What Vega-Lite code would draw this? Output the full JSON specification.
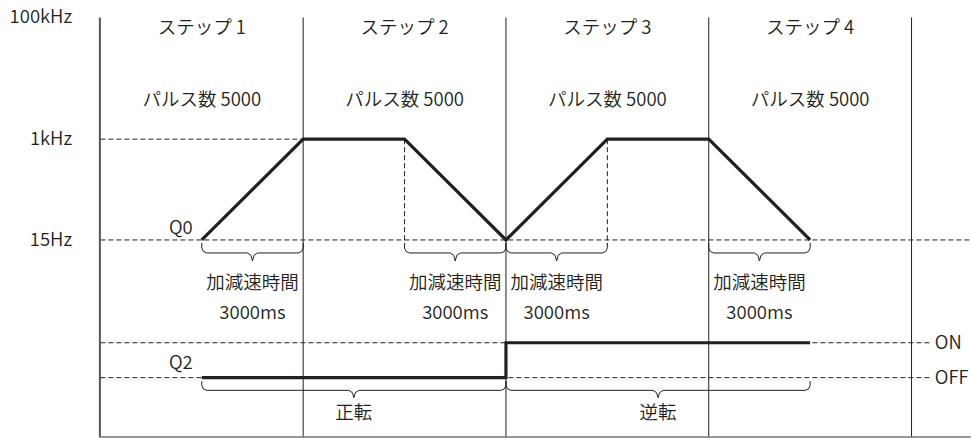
{
  "$schema": "https://vega.github.io/schema/vega-lite/v6.json",
  "width": 972,
  "height": 439,
  "autosize": {"type": "fit", "contains": "padding"},
  "padding": 0,
  "background": "white",
  "view": {"stroke": null},
  "config": {"text": {"font": "Noto Sans CJK JP", "fontSize": 18.5, "fontWeight": 350, "color": "#231f20"}},
  "datasets": {
    "dashed": [
      {"x1": -1, "x2": 1, "y1": 1, "y2": 1},
      {"x1": -1, "x2": 7.586, "y1": 0, "y2": 0},
      {"x1": -1, "x2": 7.2, "y1": -1.02, "y2": -1.02},
      {"x1": -1, "x2": 7.2, "y1": -1.366, "y2": -1.366},
      {"x1": 2, "x2": 2, "y1": 1, "y2": -0.05},
      {"x1": 4, "x2": 4, "y1": 1, "y2": -0.05}
    ],
    "steps": [
      {"t": 1, "top": 2.208, "bottom": -1.96},
      {"t": 3, "top": 2.208, "bottom": -1.96},
      {"t": 5, "top": 2.208, "bottom": -1.96},
      {"t": 7, "top": 2.208, "bottom": -1.96}
    ],
    "leftAxis": [{"t": -1.005, "top": 2.208, "bottom": -1.96}],
    "bottomAxis": [{"t1": -1, "t2": 7.586, "v": -1.955}],
    "q0": [
      {"o": 0, "t": 0, "v": 0},
      {"o": 1, "t": 1, "v": 1},
      {"o": 2, "t": 2, "v": 1},
      {"o": 3, "t": 3, "v": 0},
      {"o": 4, "t": 4, "v": 1},
      {"o": 5, "t": 5, "v": 1},
      {"o": 6, "t": 6, "v": 0}
    ],
    "q2": [
      {"o": 0, "t": 0, "v": -1.366},
      {"o": 1, "t": 3, "v": -1.366},
      {"o": 2, "t": 3, "v": -1.02},
      {"o": 3, "t": 6, "v": -1.02}
    ],
    "braces": [
      {"b": "a", "o": 1, "t": 0, "v": -0.03},
      {"b": "a", "o": 2, "t": 0, "v": -0.079},
      {"b": "a", "o": 3, "t": 0.015, "v": -0.114},
      {"b": "a", "o": 4, "t": 0.05, "v": -0.129},
      {"b": "a", "o": 5, "t": 0.45, "v": -0.129},
      {"b": "a", "o": 6, "t": 0.485, "v": -0.152},
      {"b": "a", "o": 7, "t": 0.5, "v": -0.209},
      {"b": "a", "o": 8, "t": 0.515, "v": -0.152},
      {"b": "a", "o": 9, "t": 0.55, "v": -0.129},
      {"b": "a", "o": 10, "t": 0.95, "v": -0.129},
      {"b": "a", "o": 11, "t": 0.985, "v": -0.114},
      {"b": "a", "o": 12, "t": 1, "v": -0.079},
      {"b": "a", "o": 13, "t": 1, "v": -0.03},
      {"b": "b", "o": 1, "t": 2, "v": -0.03},
      {"b": "b", "o": 2, "t": 2, "v": -0.079},
      {"b": "b", "o": 3, "t": 2.015, "v": -0.114},
      {"b": "b", "o": 4, "t": 2.05, "v": -0.129},
      {"b": "b", "o": 5, "t": 2.45, "v": -0.129},
      {"b": "b", "o": 6, "t": 2.485, "v": -0.152},
      {"b": "b", "o": 7, "t": 2.5, "v": -0.209},
      {"b": "b", "o": 8, "t": 2.515, "v": -0.152},
      {"b": "b", "o": 9, "t": 2.55, "v": -0.129},
      {"b": "b", "o": 10, "t": 2.95, "v": -0.129},
      {"b": "b", "o": 11, "t": 2.985, "v": -0.114},
      {"b": "b", "o": 12, "t": 3, "v": -0.079},
      {"b": "b", "o": 13, "t": 3, "v": -0.03},
      {"b": "c", "o": 1, "t": 3, "v": -0.03},
      {"b": "c", "o": 2, "t": 3, "v": -0.079},
      {"b": "c", "o": 3, "t": 3.015, "v": -0.114},
      {"b": "c", "o": 4, "t": 3.05, "v": -0.129},
      {"b": "c", "o": 5, "t": 3.45, "v": -0.129},
      {"b": "c", "o": 6, "t": 3.485, "v": -0.152},
      {"b": "c", "o": 7, "t": 3.5, "v": -0.209},
      {"b": "c", "o": 8, "t": 3.515, "v": -0.152},
      {"b": "c", "o": 9, "t": 3.55, "v": -0.129},
      {"b": "c", "o": 10, "t": 3.95, "v": -0.129},
      {"b": "c", "o": 11, "t": 3.985, "v": -0.114},
      {"b": "c", "o": 12, "t": 4, "v": -0.079},
      {"b": "c", "o": 13, "t": 4, "v": -0.03},
      {"b": "d", "o": 1, "t": 5, "v": -0.03},
      {"b": "d", "o": 2, "t": 5, "v": -0.079},
      {"b": "d", "o": 3, "t": 5.015, "v": -0.114},
      {"b": "d", "o": 4, "t": 5.05, "v": -0.129},
      {"b": "d", "o": 5, "t": 5.45, "v": -0.129},
      {"b": "d", "o": 6, "t": 5.485, "v": -0.152},
      {"b": "d", "o": 7, "t": 5.5, "v": -0.209},
      {"b": "d", "o": 8, "t": 5.515, "v": -0.152},
      {"b": "d", "o": 9, "t": 5.55, "v": -0.129},
      {"b": "d", "o": 10, "t": 5.95, "v": -0.129},
      {"b": "d", "o": 11, "t": 5.985, "v": -0.114},
      {"b": "d", "o": 12, "t": 6, "v": -0.079},
      {"b": "d", "o": 13, "t": 6, "v": -0.03},
      {"b": "e", "o": 1, "t": 0, "v": -1.40},
      {"b": "e", "o": 2, "t": 0, "v": -1.442},
      {"b": "e", "o": 3, "t": 0.015, "v": -1.477},
      {"b": "e", "o": 4, "t": 0.05, "v": -1.492},
      {"b": "e", "o": 5, "t": 1.45, "v": -1.492},
      {"b": "e", "o": 6, "t": 1.485, "v": -1.515},
      {"b": "e", "o": 7, "t": 1.5, "v": -1.565},
      {"b": "e", "o": 8, "t": 1.515, "v": -1.515},
      {"b": "e", "o": 9, "t": 1.55, "v": -1.492},
      {"b": "e", "o": 10, "t": 2.95, "v": -1.492},
      {"b": "e", "o": 11, "t": 2.985, "v": -1.477},
      {"b": "e", "o": 12, "t": 3, "v": -1.442},
      {"b": "e", "o": 13, "t": 3, "v": -1.40},
      {"b": "f", "o": 1, "t": 3, "v": -1.40},
      {"b": "f", "o": 2, "t": 3, "v": -1.442},
      {"b": "f", "o": 3, "t": 3.015, "v": -1.477},
      {"b": "f", "o": 4, "t": 3.05, "v": -1.492},
      {"b": "f", "o": 5, "t": 4.45, "v": -1.492},
      {"b": "f", "o": 6, "t": 4.485, "v": -1.515},
      {"b": "f", "o": 7, "t": 4.5, "v": -1.565},
      {"b": "f", "o": 8, "t": 4.515, "v": -1.515},
      {"b": "f", "o": 9, "t": 4.55, "v": -1.492},
      {"b": "f", "o": 10, "t": 5.95, "v": -1.492},
      {"b": "f", "o": 11, "t": 5.985, "v": -1.477},
      {"b": "f", "o": 12, "t": 6, "v": -1.442},
      {"b": "f", "o": 13, "t": 6, "v": -1.40}
    ],
    "centerLabels": [
      {"t": 0, "v": 2.10, "label": "ステップ 1"},
      {"t": 2, "v": 2.10, "label": "ステップ 2"},
      {"t": 4, "v": 2.10, "label": "ステップ 3"},
      {"t": 6, "v": 2.10, "label": "ステップ 4"},
      {"t": 0, "v": 1.386, "label": "パルス数 5000"},
      {"t": 2, "v": 1.386, "label": "パルス数 5000"},
      {"t": 4, "v": 1.386, "label": "パルス数 5000"},
      {"t": 6, "v": 1.386, "label": "パルス数 5000"},
      {"t": 0.5, "v": -0.426, "label": "加減速時間"},
      {"t": 2.5, "v": -0.426, "label": "加減速時間"},
      {"t": 3.5, "v": -0.426, "label": "加減速時間"},
      {"t": 5.5, "v": -0.426, "label": "加減速時間"},
      {"t": 0.5, "v": -0.723, "label": "3000ms"},
      {"t": 2.5, "v": -0.723, "label": "3000ms"},
      {"t": 3.5, "v": -0.723, "label": "3000ms"},
      {"t": 5.5, "v": -0.723, "label": "3000ms"},
      {"t": 1.5, "v": -1.713, "label": "正転"},
      {"t": 4.5, "v": -1.713, "label": "逆転"}
    ],
    "rightLabels": [
      {"t": -1.279, "v": 2.208, "label": "100kHz"},
      {"t": -1.279, "v": 1, "label": "1kHz"},
      {"t": -1.279, "v": 0, "label": "15Hz"},
      {"t": -0.089, "v": 0.119, "label": "Q0"},
      {"t": -0.089, "v": -1.218, "label": "Q2"}
    ],
    "leftLabels": [
      {"t": 7.23, "v": -1.02, "label": "ON"},
      {"t": 7.23, "v": -1.366, "label": "OFF"}
    ]
  },
  "layer": [
    {
      "data": {"name": "dashed"},
      "mark": {"type": "rule", "color": "#231f20", "strokeWidth": 1, "strokeDash": [5, 3]},
      "encoding": {
        "x": {"field": "x1", "type": "quantitative", "scale": {"domain": [-1.990, 7.5865], "nice": false, "zero": false}, "axis": null},
        "x2": {"field": "x2"},
        "y": {"field": "y1", "type": "quantitative", "scale": {"domain": [-1.965, 2.381], "nice": false, "zero": false}, "axis": null},
        "y2": {"field": "y2"}
      }
    },
    {
      "data": {"name": "steps"},
      "mark": {"type": "rule", "color": "#231f20", "strokeWidth": 1},
      "encoding": {
        "x": {"field": "t", "type": "quantitative", "axis": null},
        "y": {"field": "top", "type": "quantitative", "axis": null},
        "y2": {"field": "bottom"}
      }
    },
    {
      "data": {"name": "leftAxis"},
      "mark": {"type": "rule", "color": "#555555", "strokeWidth": 2},
      "encoding": {
        "x": {"field": "t", "type": "quantitative", "axis": null},
        "y": {"field": "top", "type": "quantitative", "axis": null},
        "y2": {"field": "bottom"}
      }
    },
    {
      "data": {"name": "bottomAxis"},
      "mark": {"type": "rule", "color": "#777777", "strokeWidth": 1.5},
      "encoding": {
        "x": {"field": "t1", "type": "quantitative", "axis": null},
        "x2": {"field": "t2"},
        "y": {"field": "v", "type": "quantitative", "axis": null}
      }
    },
    {
      "data": {"name": "braces"},
      "mark": {"type": "line", "color": "#231f20", "strokeWidth": 1},
      "encoding": {
        "x": {"field": "t", "type": "quantitative", "axis": null},
        "y": {"field": "v", "type": "quantitative", "axis": null},
        "detail": {"field": "b"},
        "order": {"field": "o"}
      }
    },
    {
      "data": {"name": "q0"},
      "mark": {"type": "line", "color": "#231f20", "strokeWidth": 3.2},
      "encoding": {
        "x": {"field": "t", "type": "quantitative", "axis": null},
        "y": {"field": "v", "type": "quantitative", "axis": null},
        "order": {"field": "o"}
      }
    },
    {
      "data": {"name": "q2"},
      "mark": {"type": "line", "color": "#231f20", "strokeWidth": 3.2},
      "encoding": {
        "x": {"field": "t", "type": "quantitative", "axis": null},
        "y": {"field": "v", "type": "quantitative", "axis": null},
        "order": {"field": "o"}
      }
    },
    {
      "data": {"name": "centerLabels"},
      "mark": {"type": "text", "align": "center", "baseline": "middle"},
      "encoding": {
        "x": {"field": "t", "type": "quantitative", "axis": null},
        "y": {"field": "v", "type": "quantitative", "axis": null},
        "text": {"field": "label"}
      }
    },
    {
      "data": {"name": "rightLabels"},
      "mark": {"type": "text", "align": "right", "baseline": "middle"},
      "encoding": {
        "x": {"field": "t", "type": "quantitative", "axis": null},
        "y": {"field": "v", "type": "quantitative", "axis": null},
        "text": {"field": "label"}
      }
    },
    {
      "data": {"name": "leftLabels"},
      "mark": {"type": "text", "align": "left", "baseline": "middle"},
      "encoding": {
        "x": {"field": "t", "type": "quantitative", "axis": null},
        "y": {"field": "v", "type": "quantitative", "axis": null},
        "text": {"field": "label"}
      }
    }
  ]
}
